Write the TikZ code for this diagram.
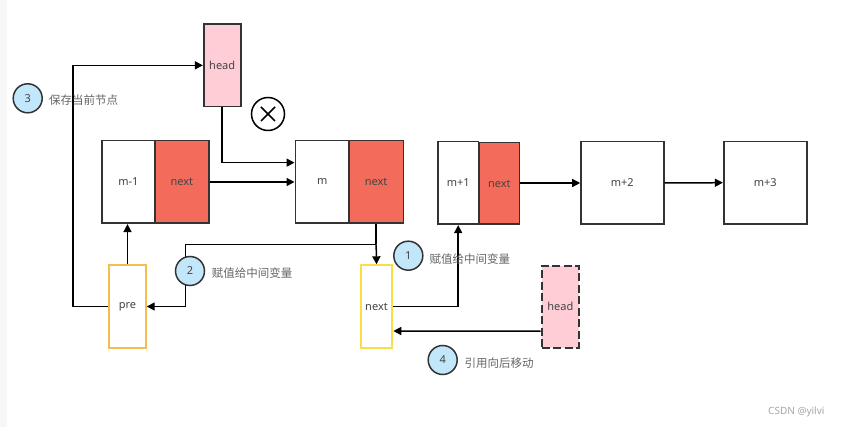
\documentclass[tikz,border=0pt]{standalone}
\usepackage{fontspec}
\setmainfont{Noto Sans}
\newfontfamily\cjk{Noto Sans CJK SC}
\usetikzlibrary{arrows.meta,calc}
\definecolor{txt}{HTML}{444444}
\definecolor{lbl}{HTML}{666666}
\definecolor{edge}{HTML}{333333}
\definecolor{rednext}{HTML}{F26B5B}
\definecolor{pinkhead}{HTML}{FFCDD6}
\definecolor{bluecirc}{HTML}{C2E7FA}
\definecolor{orangeb}{HTML}{F9BA4E}
\definecolor{yellowb}{HTML}{FADD4A}
\tikzset{
  box/.style={draw=edge, line width=1.6pt, rectangle, inner sep=0pt, font=\fontsize{11}{13}\selectfont, text=txt},
  redbox/.style={box, fill=rednext},
  arr/.style={line width=1.5pt, -{Triangle[length=8pt,width=8pt]}},
  plain/.style={line width=1.5pt},
  numc/.style={circle, draw=edge, line width=1.5pt, fill=bluecirc, minimum size=29pt, inner sep=0pt, font=\fontsize{11}{13}\selectfont, text=txt},
  lab/.style={anchor=west, inner sep=0pt, font=\cjk\fontsize{11.5}{13}\selectfont, text=lbl},
}
\begin{document}
\begin{tikzpicture}[x=1pt,y=-1pt]
\useasboundingbox (0,0) rectangle (841,427);
\fill[white] (0,0) rectangle (841,427);
\fill[black!3] (0,0) rectangle (7,427);
% top head
\node[box, fill=pinkhead, minimum width=37pt, minimum height=82.7pt] (head) at (222.2,65.35) {head};
% list nodes
\node[box, minimum width=53.3pt, minimum height=82.6pt] (m1) at (128.35,182) {m-1};
\node[redbox, minimum width=53.7pt, minimum height=82.6pt] (n1) at (181.85,182) {next};
\node[box, minimum width=53.7pt, minimum height=82.6pt] (m) at (322.15,182) {m};
\node[redbox, minimum width=54.3pt, minimum height=82.6pt] (nm) at (376.15,182) {next};
\node[box, minimum width=40.3pt, minimum height=82.6pt] (mp1) at (458.2,183) {m+1};
\node[redbox, minimum width=40pt, minimum height=81.6pt] (nmp1) at (499.3,183.5) {next};
\node[box, minimum width=82.7pt, minimum height=82.6pt] (mp2) at (622.35,183) {m+2};
\node[box, minimum width=83pt, minimum height=82.6pt] (mp3) at (765.2,182.7) {m+3};
% pointer variables
\node[box, draw=orangeb, line width=2pt, minimum width=36.4pt, minimum height=82.4pt] (pre) at (127.5,306.5) {pre};
\node[box, draw=yellowb, line width=2pt, minimum width=31.6pt, minimum height=82.4pt] (nv) at (376.5,306.5) {next};
\node[box, fill=pinkhead, dash pattern=on 8pt off 3.5pt, line width=2.2pt, minimum width=37.3pt, minimum height=82pt] (hd) at (560.35,306.7) {head};
% cross circle
\node[circle, draw=black, line width=1.5pt, minimum size=33pt, inner sep=0pt] (x) at (268,114) {};
\draw[line width=1.5pt] ($(x.center)+(-7,-7)$) -- ($(x.center)+(7,7)$);
\draw[line width=1.5pt] ($(x.center)+(-7,7)$) -- ($(x.center)+(7,-7)$);
% connectors
\draw[arr] (head.south) |- ($(m.north west)!0.27!(m.south west)$);
\draw[arr] (n1.east) -- (m.west);
\draw[arr] (nmp1.east |- mp2.west) -- (mp2.west);
\draw[arr] (mp2.east) -- (mp3.west);
\draw[arr] (pre.north) -- (pre.north |- m1.south);
\coordinate (j) at (nm.south |- 0,244.3);
\coordinate (k) at (185.3,244.3);
\draw[plain] (nm.south) -- (j);
\draw[arr] (j) -- (nv.north);
\draw[arr] (j) -- (k) |- (pre.east);
\coordinate (l) at (73,306.5);
\draw[arr] (pre.west) -- (l) |- (head.west);
\draw[arr] (nv.east) -| (mp1.south);
\draw[arr] ([yshift=-24.5pt]hd.west) -- ([yshift=-24.5pt]nv.east);
% step circles and labels
\node[numc] (c3) at (27.7,98.3) {3};
\node[lab] (t3) at (49,100) {保存当前节点};
\node[numc] (c2) at (190,271) {2};
\node[lab] (t2) at (211.7,273.5) {赋值给中间变量};
\node[numc] (c1) at (408.3,255.7) {1};
\node[lab] (t1) at (429.3,259) {赋值给中间变量};
\node[numc] (c4) at (442.7,360) {4};
\node[lab] (t4) at (464.3,363) {引用向后移动};
\node[anchor=west, inner sep=0pt, font=\fontsize{10}{12}\selectfont, text=black!35] (csdn) at (768,412) {CSDN @yilvi};
\end{tikzpicture}
\end{document}
